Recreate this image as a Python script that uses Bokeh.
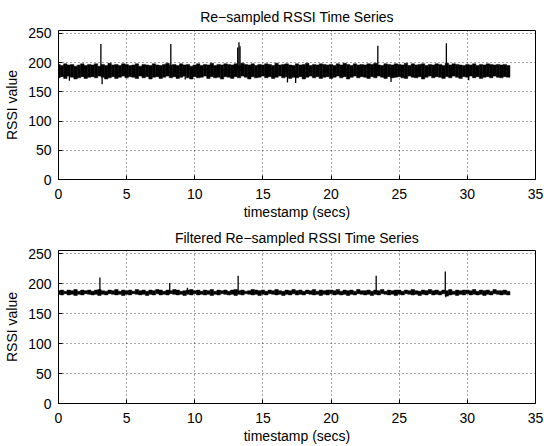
import numpy as np
from bokeh.plotting import figure
from bokeh.layouts import column
from bokeh.models import Range1d, SingleIntervalTicker
from bokeh.embed import file_html
from bokeh.resources import INLINE

# ---- data ----
STEP = 0.25  # seconds between envelope samples

# Raw re-sampled RSSI: upper / lower envelope of the dense noise band
raw_hi = [197,195,198,196,197,194,196,198,195,197,
          196,198,194,197,195,199,196,197,195,198,
          197,195,196,198,194,197,196,195,198,196,
          195,197,199,196,197,195,198,196,197,194,
          196,198,195,197,196,199,195,197,196,198,
          197,196,198,195,199,197,196,198,195,197,
          196,198,197,195,199,196,197,198,196,195,
          198,196,197,199,195,197,196,198,197,196,
          197,195,198,196,199,197,195,198,196,197,
          196,198,197,199,196,195,198,197,196,198,
          197,196,199,195,198,196,197,198,195,197,
          196,198,197,195,199,196,198,197,196,195,
          197,196,198,195,197,196,198,197,196,197,
          196,197,195]
raw_lo = [174,176,173,177,175,172,174,176,173,175,
          176,174,177,175,172,174,176,173,175,177,
          174,176,175,173,177,174,176,172,175,176,
          173,175,177,174,176,173,175,177,174,172,
          176,174,175,177,173,176,174,175,172,176,
          175,173,176,174,177,175,172,176,174,175,
          177,174,176,173,175,177,174,176,173,175,
          174,176,172,175,177,174,176,173,175,176,
          173,175,177,174,176,172,175,177,174,176,
          175,173,176,174,177,175,173,176,174,175,
          176,174,173,177,175,174,176,172,175,177,
          174,176,175,173,176,174,177,175,173,176,
          175,177,174,176,173,175,176,174,177,175,
          174,176,175]
raw_spike_t    = [3.11, 8.24, 13.15, 13.24, 13.32, 23.43, 28.46]
raw_spike_peak = [232, 232, 226, 235, 228, 229, 233]
raw_dip_t   = [0.8, 3.2, 9.3, 16.8, 17.4, 24.4, 30.1]
raw_dip_low = [169, 163, 171, 166, 165, 167, 170]

# Filtered re-sampled RSSI
flt_hi = [188,189,187,189,188,190,187,189,188,189,
          187,189,190,188,187,189,188,190,187,189,
          188,189,187,190,188,189,187,189,188,190,
          189,187,189,188,190,189,187,188,189,190,
          188,189,187,189,188,190,187,189,188,189,
          187,189,190,188,189,187,188,190,189,188,
          189,187,189,188,190,188,187,189,188,190,
          188,189,187,189,188,190,187,189,188,189,
          189,188,190,187,189,188,189,187,190,188,
          188,189,187,189,188,190,187,189,188,189,
          189,187,189,188,190,188,187,189,188,190,
          188,189,187,189,188,190,187,189,188,189,
          189,188,190,187,189,188,189,187,190,188,
          188,189,187]
flt_lo = [182,181,183,181,182,180,182,181,183,182,
          181,182,180,182,181,183,182,181,182,180,
          182,181,183,182,181,182,180,182,181,183,
          181,182,181,183,182,181,182,180,182,181,
          183,181,182,181,182,180,182,181,183,182,
          181,182,180,182,181,183,182,181,182,180,
          182,181,183,182,181,182,180,182,181,183,
          181,182,181,183,182,181,182,180,182,181,
          183,181,182,181,182,180,182,181,183,182,
          181,182,180,182,181,183,182,181,182,180,
          182,181,183,182,181,182,180,182,181,183,
          181,182,181,183,179,181,182,180,182,181,
          183,181,182,181,182,180,182,181,183,182,
          181,182,181]
flt_spike_t    = [3.04, 8.16, 9.46, 13.18, 23.31, 28.38]
flt_spike_peak = [210, 201, 193, 213, 213, 220]
flt_dip_t   = [28.42]
flt_dip_low = [177]

x_ticks_interval = 5
y_ticks_interval = 50

FONT = "Liberation Sans"


def make_panel(title, hi, lo, sp_t, sp_peak, dp_t, dp_low, height, top, bottom, standoff):
    t = np.arange(len(hi)) * STEP
    p = figure(width=544, height=height, output_backend="svg", toolbar_location=None,
               x_range=Range1d(0, 35), y_range=Range1d(0, 255),
               min_border_left=58, min_border_right=9,
               min_border_top=top, min_border_bottom=bottom)
    p.title.text = title
    p.title.align = "center"
    p.title.text_font = FONT
    p.title.text_font_size = "14px"
    p.title.text_font_style = "normal"
    p.title.text_color = "black"
    p.title.text_line_height = 0.6
    p.title.standoff = standoff

    p.xaxis.ticker = SingleIntervalTicker(interval=x_ticks_interval)
    p.yaxis.ticker = SingleIntervalTicker(interval=y_ticks_interval)
    p.xaxis.axis_label = "timestamp (secs)"
    p.yaxis.axis_label = "RSSI value"
    for ax in (p.xaxis, p.yaxis):
        ax.major_label_text_font = FONT
        ax.major_label_text_font_size = "14px"
        ax.major_label_text_color = "black"
        ax.axis_label_text_font = FONT
        ax.axis_label_text_font_size = "14px"
        ax.axis_label_text_font_style = "normal"
        ax.axis_label_text_color = "black"
        ax.major_tick_in = 4
        ax.major_tick_out = 0
        ax.minor_tick_line_color = None
        ax.axis_line_color = "black"
        ax.major_tick_line_color = "black"
    p.xaxis.major_label_standoff = 5
    p.xaxis.axis_label_standoff = 2
    p.yaxis.major_label_standoff = 3
    p.yaxis.axis_label_standoff = 5

    p.grid.grid_line_color = "black"
    p.grid.grid_line_alpha = 0.7
    p.grid.grid_line_dash = "1 3"
    p.outline_line_color = "black"
    p.outline_line_alpha = 1

    p.quad(left=t - STEP / 2, right=t + STEP / 2, bottom=lo, top=hi,
           fill_color="black", line_color="black", line_width=0.5)
    mid = (np.array(hi) + np.array(lo)) / 2.0
    base_sp = np.interp(sp_t, t, mid)
    base_dp = np.interp(dp_t, t, mid)
    p.segment(x0=sp_t, y0=base_sp, x1=sp_t, y1=sp_peak, line_color="black", line_width=1.3)
    p.segment(x0=dp_t, y0=base_dp, x1=dp_t, y1=dp_low, line_color="black", line_width=1.3)
    return p


p1 = make_panel("Re\u2212sampled RSSI Time Series", raw_hi, raw_lo,
                raw_spike_t, raw_spike_peak, raw_dip_t, raw_dip_low, 222, 29, 39, 12)
p2 = make_panel("Filtered Re\u2212sampled RSSI Time Series", flt_hi, flt_lo,
                flt_spike_t, flt_spike_peak, flt_dip_t, flt_dip_low, 224, 26, 43, 10)

layout = column(p1, p2, spacing=0)
open("out.html", "w").write(file_html(layout, INLINE))
